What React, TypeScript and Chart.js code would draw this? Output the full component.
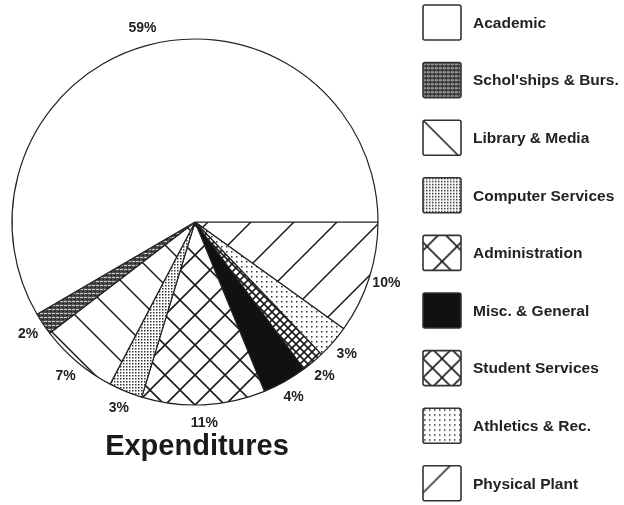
import React, { useEffect, useRef } from "react";
import { Chart, registerables } from "chart.js";

Chart.register(...registerables);

const CATEGORIES = [
  "Academic",
  "Schol'ships & Burs.",
  "Library & Media",
  "Computer Services",
  "Administration",
  "Misc. & General",
  "Student Services",
  "Athletics & Rec.",
  "Physical Plant",
];
const PERCENTS = [59, 2, 7, 3, 11, 4, 2, 3, 10];
const PATTERN_KINDS = ["blank", "stripes", "back", "fine", "cross", "solid", "grid", "dots", "fwd"];
const TITLE = "Expenditures";

type Tile = { size: number; draw: (g: CanvasRenderingContext2D, s: number) => void };

function tileFor(kind: string, legend: boolean): Tile {
  const ink = "#1c1c1c";
  const line = (g: CanvasRenderingContext2D, w: number) => {
    g.strokeStyle = ink;
    g.lineWidth = w;
  };
  const fwd = (g: CanvasRenderingContext2D, s: number) => {
    g.beginPath();
    g.moveTo(0, s); g.lineTo(s, 0);
    g.moveTo(-2, 2); g.lineTo(2, -2);
    g.moveTo(s - 2, s + 2); g.lineTo(s + 2, s - 2);
    g.stroke();
  };
  const back = (g: CanvasRenderingContext2D, s: number) => {
    g.beginPath();
    g.moveTo(0, 0); g.lineTo(s, s);
    g.moveTo(-2, s - 2); g.lineTo(2, s + 2);
    g.moveTo(s - 2, -2); g.lineTo(s + 2, 2);
    g.stroke();
  };
  switch (kind) {
    case "stripes":
      return {
        size: 4,
        draw: (g, s) => {
          g.fillStyle = "#4d4d4d";
          g.fillRect(0, 0, s, s);
          g.fillStyle = "#c9c9c9";
          g.fillRect(0, 1, 3, 1);
          g.fillStyle = "#222";
          g.fillRect(2, 3, 2, 1);
        },
      };
    case "back":
      return { size: 40, draw: (g, s) => { line(g, 1.5); back(g, s); } };
    case "fwd":
      return { size: legend ? 50 : 43, draw: (g, s) => { line(g, 1.5); fwd(g, s); } };
    case "cross":
      return { size: 30, draw: (g, s) => { line(g, 1.6); fwd(g, s); back(g, s); } };
    case "grid":
      return legend
        ? { size: 19, draw: (g, s) => { line(g, 1.6); fwd(g, s); back(g, s); } }
        : { size: 8, draw: (g, s) => { line(g, 1.6); fwd(g, s); back(g, s); } };
    case "fine":
      return {
        size: 3,
        draw: (g) => {
          g.fillStyle = "#333";
          g.fillRect(0, 0, 1.5, 1.5);
        },
      };
    case "dots":
      return {
        size: 5,
        draw: (g) => {
          g.fillStyle = "#333";
          g.fillRect(1, 1, 1.5, 1.5);
        },
      };
    case "solid":
      return { size: 4, draw: (g, s) => { g.fillStyle = "#111"; g.fillRect(0, 0, s, s); } };
    default:
      return { size: 4, draw: () => {} };
  }
}

function makePattern(kind: string, legend: boolean): CanvasPattern | string {
  const t = tileFor(kind, legend);
  const c = document.createElement("canvas");
  c.width = t.size;
  c.height = t.size;
  const g = c.getContext("2d")!;
  g.fillStyle = "#ffffff";
  g.fillRect(0, 0, t.size, t.size);
  t.draw(g, t.size);
  return g.createPattern(c, "repeat") || "#fff";
}

const LEGEND_SHIFT: Record<string, [number, number]> = {
  back: [0, 0],
  fwd: [-11.5, -11.5],
  cross: [4, 11],
  grid: [0, 8],
};

const overlayPlugin = {
  id: "overlay",
  afterDraw(chart: any) {
    const ctx: CanvasRenderingContext2D = chart.ctx;
    const meta = chart.getDatasetMeta(0);
    const data: number[] = chart.data.datasets[0].data;
    ctx.save();
    // percent labels
    ctx.font = 'bold 14px "Liberation Sans", Arial, sans-serif';
    ctx.fillStyle = "#222";
    ctx.textAlign = "center";
    ctx.textBaseline = "middle";
    meta.data.forEach((arc: any, i: number) => {
      const p = arc.getProps(["x", "y", "startAngle", "endAngle", "outerRadius"], true);
      const mid = (p.startAngle + p.endAngle) / 2;
      const rr = p.outerRadius + 18;
      ctx.fillText(`${data[i]}%`, p.x + rr * Math.cos(mid), p.y + rr * Math.sin(mid));
    });
    // title
    ctx.font = 'bold 29px "Liberation Sans", Arial, sans-serif';
    ctx.fillStyle = "#1a1a1a";
    ctx.fillText(TITLE, 197, 447);
    // legend
    const boxX = 423, boxW = 38, boxH = 35, top0 = 5, step = 57.6;
    ctx.textAlign = "left";
    ctx.font = 'bold 15.5px "Liberation Sans", Arial, sans-serif';
    CATEGORIES.forEach((name, i) => {
      const y = top0 + i * step;
      const kind = PATTERN_KINDS[i];
      const pat = makePattern(kind, true);
      if (typeof pat !== "string") {
        const sh = LEGEND_SHIFT[kind] || [0, 0];
        pat.setTransform(new DOMMatrix().translate(boxX + sh[0], y + sh[1]));
      }
      ctx.fillStyle = pat as any;
      ctx.beginPath();
      ctx.roundRect(boxX, y, boxW, boxH, 2);
      ctx.fill();
      ctx.lineWidth = 1.6;
      ctx.strokeStyle = "#333";
      ctx.stroke();
      ctx.fillStyle = "#222";
      ctx.fillText(name, 473, y + boxH / 2 + 1);
    });
    ctx.restore();
  },
};

export default function App() {
  const ref = useRef<HTMLCanvasElement | null>(null);
  useEffect(() => {
    if (!ref.current) return;
    const order = CATEGORIES.map((_, i) => CATEGORIES.length - 1 - i);
    const chart = new Chart(ref.current, {
      type: "pie",
      data: {
        labels: order.map((i) => CATEGORIES[i]),
        datasets: [
          {
            data: order.map((i) => PERCENTS[i]),
            backgroundColor: order.map((i) => makePattern(PATTERN_KINDS[i], false)) as any,
            borderColor: "#222",
            borderWidth: 1.2,
            radius: 183,
          } as any,
        ],
      },
      options: {
        responsive: false,
        animation: false,
        rotation: 90,
        layout: { padding: { left: 0, right: 234, top: 0, bottom: 61 } },
        plugins: {
          legend: { display: false },
          tooltip: { enabled: false },
          title: { display: false },
        },
      },
      plugins: [overlayPlugin],
    });
    return () => chart.destroy();
  }, []);
  return (
    <div style={{ position: "fixed", left: 0, top: 0, width: 624, height: 505, background: "#fff" }}>
      <canvas ref={ref} width={624} height={505} style={{ width: 624, height: 505, display: "block" }} />
    </div>
  );
}
